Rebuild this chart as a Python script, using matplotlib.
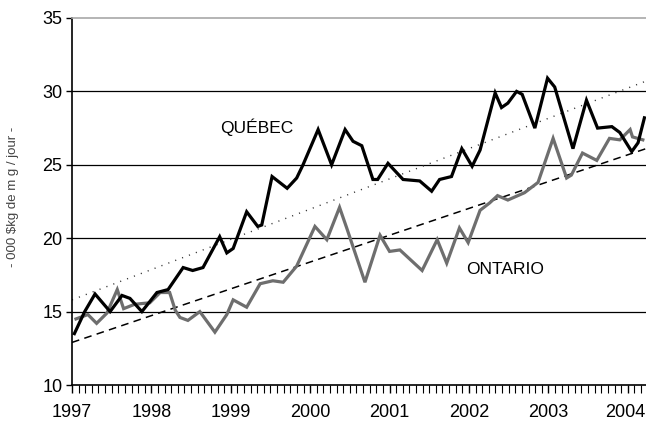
"""
Quebec vs Ontario series, 1997-2004, with linear trend lines.
Redraw of the old spreadsheet chart, output out.png (646x423).
"""

import matplotlib
matplotlib.use("Agg")
import matplotlib.pyplot as plt
from matplotlib.ticker import MultipleLocator
from matplotlib.transforms import ScaledTranslation

plt.rcParams["font.family"] = ["Liberation Sans", "DejaVu Sans"]

# ------------------------------------------------------------------
# data (decimal year, value)
# ------------------------------------------------------------------

QC_YEARS = [1997.03, 1997.16, 1997.29, 1997.48, 1997.63, 1997.73, 1997.88,
            1998.07, 1998.21, 1998.40, 1998.52, 1998.65, 1998.86, 1998.95,
            1999.03, 1999.20, 1999.34, 1999.39, 1999.52, 1999.71, 1999.83,
            1999.91, 2000.10, 2000.27, 2000.44, 2000.54, 2000.65, 2000.79,
            2000.85, 2000.98, 2001.17, 2001.38, 2001.53, 2001.63, 2001.78,
            2001.91, 2002.04, 2002.14, 2002.33, 2002.41, 2002.49, 2002.60,
            2002.67, 2002.83, 2002.99, 2003.08, 2003.31, 2003.48, 2003.62,
            2003.80, 2003.90, 2004.05, 2004.13, 2004.21]
QC_VALUES = [13.5, 15.0, 16.2, 15.0, 16.1, 15.9, 15.0,
             16.3, 16.5, 18.0, 17.8, 18.0, 20.1, 19.0,
             19.3, 21.8, 20.8, 20.9, 24.2, 23.4, 24.1,
             25.0, 27.4, 25.0, 27.4, 26.6, 26.3, 24.0,
             24.0, 25.1, 24.0, 23.9, 23.2, 24.0, 24.2,
             26.1, 24.9, 26.0, 29.9, 28.9, 29.2, 30.0,
             29.8, 27.5, 30.9, 30.3, 26.1, 29.4, 27.5,
             27.6, 27.2, 25.9, 26.5, 28.2]

ON_YEARS = [1997.05, 1997.20, 1997.31, 1997.44, 1997.57, 1997.65, 1997.79,
            1997.98, 1998.11, 1998.23, 1998.30, 1998.36, 1998.46, 1998.61,
            1998.80, 1998.95, 1999.03, 1999.20, 1999.37, 1999.53, 1999.66,
            1999.83, 2000.06, 2000.21, 2000.37, 2000.46, 2000.69, 2000.88,
            2001.00, 2001.13, 2001.41, 2001.60, 2001.72, 2001.88, 2001.99,
            2002.14, 2002.26, 2002.36, 2002.49, 2002.70, 2002.87, 2003.06,
            2003.23, 2003.29, 2003.43, 2003.61, 2003.77, 2003.90, 2004.03,
            2004.06, 2004.19]
ON_VALUES = [14.5, 14.8, 14.2, 14.9, 16.5, 15.2, 15.5,
             15.6, 16.3, 16.3, 15.1, 14.6, 14.4, 15.0,
             13.6, 14.8, 15.8, 15.3, 16.9, 17.1, 17.0,
             18.1, 20.8, 19.9, 22.1, 20.7, 17.0, 20.2,
             19.1, 19.2, 17.8, 19.9, 18.3, 20.7, 19.7,
             21.9, 22.4, 22.9, 22.6, 23.1, 23.8, 26.8,
             24.1, 24.3, 25.8, 25.3, 26.8, 26.7, 27.4,
             26.9, 26.7]

# linear trends, given by their end points
TREND_YEARS = [1997.0, 2004.23]
QC_TREND = [15.8, 30.7]
ON_TREND = [12.9, 26.1]

YEAR_TICKS = list(range(1997, 2005))
Y_TICKS = [10, 15, 20, 25, 30, 35]
Y_LABEL = "- 000 $kg de m g / jour -"


def main() -> None:
    fig = plt.figure(figsize=(6.46, 4.23), dpi=100)
    ax = fig.add_axes([72 / 646, 1 - 385 / 423, 1 - 72 / 646, (385 - 18) / 423])

    # horizontal rules at 15..30 (the one at 35 is the grey top border)
    for v in Y_TICKS[1:-1]:
        ax.axhline(v, color="black", linewidth=0.9, zorder=1)

    ax.plot(TREND_YEARS, QC_TREND, color="#333333", linestyle=(0, (0.8, 4.5)),
            linewidth=1.0, zorder=2)
    ax.plot(TREND_YEARS, ON_TREND, color="black", linestyle=(0, (5, 3.5)),
            linewidth=1.1, zorder=2)

    ax.plot(ON_YEARS, ON_VALUES, color="#6e6e6e", linewidth=2.3, zorder=3,
            solid_joinstyle="miter")
    ax.plot(QC_YEARS, QC_VALUES, color="black", linewidth=2.3, zorder=4,
            solid_joinstyle="miter")

    ax.text(1998.87, 27.55, "QUÉBEC", fontsize=12.5, va="center", ha="left")
    ax.text(2001.96, 17.85, "ONTARIO", fontsize=12.5, va="center", ha="left")

    ax.set_xlim(1997.0, 2004.23)
    ax.set_ylim(10, 35)
    ax.set_xticks(YEAR_TICKS)
    ax.set_xticklabels([str(y) for y in YEAR_TICKS])
    ax.xaxis.set_minor_locator(MultipleLocator(1 / 12))
    ax.set_yticks(Y_TICKS)
    ax.tick_params(axis="y", direction="out", length=4, width=1,
                   labelsize=13, pad=3)
    ax.tick_params(axis="x", which="major", direction="out", length=5.5,
                   width=1, labelsize=13, pad=8)
    ax.tick_params(axis="x", which="minor", direction="out", length=5.5,
                   width=0.8)

    # last year label sits right on the figure edge; nudge it inside
    last = ax.get_xticklabels()[-1]
    last.set_transform(last.get_transform()
                       + ScaledTranslation(-2 / 72, 0, fig.dpi_scale_trans))

    ax.spines["right"].set_visible(False)
    ax.spines["top"].set_color("#a8a8a8")
    ax.spines["top"].set_linewidth(1.2)
    ax.spines["left"].set_linewidth(1.2)
    ax.spines["bottom"].set_linewidth(1.2)

    fig.text(13 / 646, 1 - 197 / 423, Y_LABEL, rotation=90, fontsize=9.5,
             color="#444444", ha="center", va="center")

    fig.savefig("out.png", dpi=100)
    plt.close(fig)


if __name__ == "__main__":
    main()
